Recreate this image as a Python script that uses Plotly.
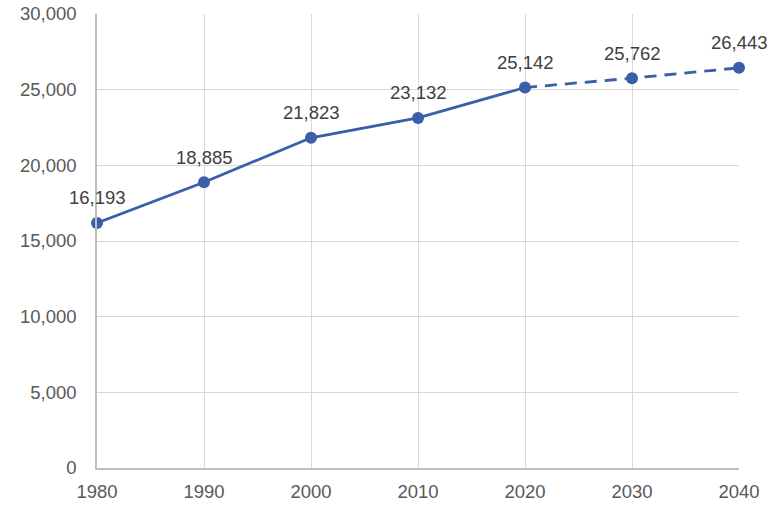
import plotly.graph_objects as go

years = [1980, 1990, 2000, 2010, 2020, 2030, 2040]
values = [16193, 18885, 21823, 23132, 25142, 25762, 26443]
labels = ["16,193", "18,885", "21,823", "23,132", "25,142", "25,762", "26,443"]
y_ticks = [0, 5000, 10000, 15000, 20000, 25000, 30000]
y_tick_labels = ["0", "5,000", "10,000", "15,000", "20,000", "25,000", "30,000"]

color = "#3a5ea8"
font = "Liberation Sans, Arial, sans-serif"
fsize = 18.5

fig = go.Figure()
# actual (solid)
fig.add_trace(go.Scatter(
    x=years[:5], y=values[:5], mode="lines",
    line=dict(color=color, width=2.8), hoverinfo="skip", showlegend=False))
# projection (dashed)
fig.add_trace(go.Scatter(
    x=years[4:], y=values[4:], mode="lines",
    line=dict(color=color, width=2.8, dash="12px,8px"), hoverinfo="skip", showlegend=False))
# markers
fig.add_trace(go.Scatter(
    x=years, y=values, mode="markers",
    marker=dict(color=color, size=12),
    cliponaxis=False, hoverinfo="skip", showlegend=False))

for x, y, t in zip(years, values, labels):
    fig.add_annotation(x=x, y=y, text=t, showarrow=False, yshift=25,
                       font=dict(family=font, size=fsize, color="#404040"))

fig.update_layout(
    width=783, height=516,
    margin=dict(l=97, r=44, t=14, b=48, autoexpand=False),
    paper_bgcolor="white", plot_bgcolor="white",
    font=dict(family=font, size=fsize, color="#595959"),
)
fig.update_xaxes(
    range=[1980, 2040], tickvals=years, ticktext=[str(y) for y in years],
    showgrid=True, gridcolor="#d9d9d9", gridwidth=1.3,
    showline=True, linecolor="#bfbfbf", linewidth=1.5,
    ticks="", zeroline=False, automargin=False, ticklabelstandoff=6,
    tickfont=dict(size=fsize, color="#595959"),
)
fig.update_yaxes(
    range=[0, 30000], tickvals=y_ticks, ticktext=y_tick_labels,
    showgrid=True, gridcolor="#d9d9d9", gridwidth=1.3,
    showline=True, linecolor="#bfbfbf", linewidth=1.5,
    ticks="", zeroline=False, ticklabelstandoff=15, automargin=False,
    tickfont=dict(size=fsize, color="#595959"),
)

fig.write_html("out.html", config={"displayModeBar": False},
               post_script="document.body.style.margin='0';")
